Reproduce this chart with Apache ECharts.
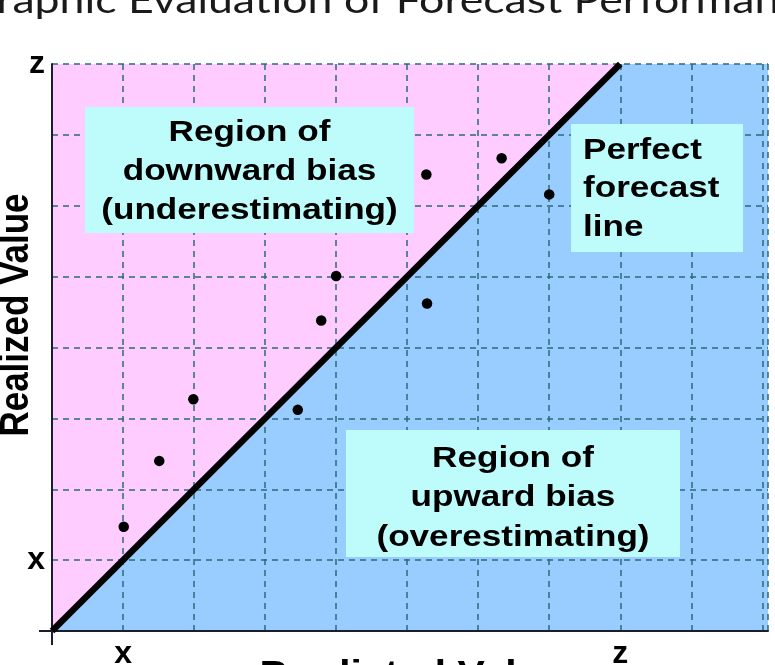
<!DOCTYPE html>
<html><head><meta charset="utf-8">
<script src="https://cdn.jsdelivr.net/npm/echarts@6/dist/echarts.min.js"></script>
<style>html,body{margin:0;padding:0;background:#fff;overflow:hidden}#c{width:775px;height:665px}</style>
</head><body><div id="c"></div>
<script>
// ---- data ----
const predicted = [1.01, 1.51, 1.99, 3.46, 3.79, 4.00, 5.28, 5.27, 6.33, 7.00];
const realized  = [1.47, 2.40, 3.27, 3.12, 4.38, 5.01, 4.62, 6.44, 6.67, 6.16];
const tickValues = [1, 8];
const tickLabels = ['x', 'z'];
const xMax = 10.08, yMax = 8;
const perfectLine = [[0, 0], [yMax, yMax]];
const downwardRegion = [[0, 0], [0, yMax], [yMax, yMax]];
const upwardRegion = [[0, 0], [xMax, 0], [xMax, yMax], [yMax, yMax]];
const titleText = 'Graphic Evaluation of Forecast Performance';
const xTitle = 'Predicted Value';
const yTitle = 'Realized Value';
const boxDownText = 'Region of\ndownward bias\n(underestimating)';
const boxPerfectText = 'Perfect\nforecast\nline';
const boxUpText = 'Region of\nupward bias\n(overestimating)';

// ---- layout ----
const G = {left: 52, top: 64, right: 7, bottom: 34};
const W = 775, H = 665;
const axisY = H - G.bottom;
const boxFill = '#bdfcfa';
const textFont = 'bold 30px "Liberation Sans", Arial, sans-serif';
const SX = 1.17;

const fmt = v => { const i = tickValues.indexOf(v); return i >= 0 ? tickLabels[i] : ''; };
const axisLabelStyle = {fontSize: 32, fontWeight: 'bold', fontFamily: 'Liberation Sans', color: '#000'};
const splitStyle = {type: [6, 5], color: '#2a6a7c', width: 1.5};

function polySeries(region, color) {
  return {
    type: 'custom', z: -5, silent: true, data: [[0, 0]],
    renderItem: (params, api) => ({
      type: 'polygon',
      shape: {points: region.map(p => api.coord(p))},
      style: {fill: color}
    })
  };
}

function label(x, y, text, opts) {
  return {type: 'group', x: x, y: y, scaleX: opts.sx || 1, z: 20, children: [
    {type: 'text', z: 20, rotation: opts.rot || 0,
     style: Object.assign({text: text, x: 0, y: 0, align: opts.align || 'center', verticalAlign: 'middle',
       font: opts.font || textFont, fill: opts.fill || '#000'}, opts.lh ? {lineHeight: opts.lh} : {})}]};
}

const chart = echarts.init(document.getElementById('c'), null, {renderer: 'canvas', width: W, height: H});
chart.setOption({
  animation: false,
  grid: {left: G.left, top: G.top, right: G.right, bottom: G.bottom, containLabel: false, outerBoundsMode: 'none'},
  xAxis: {
    type: 'value', min: 0, max: xMax, interval: 1,
    axisLine: {onZero: false, lineStyle: {color: '#1c1c2c', width: 2}},
    axisTick: {show: false},
    splitLine: {show: true, lineStyle: splitStyle},
    axisLabel: Object.assign({formatter: fmt, margin: 7, showMaxLabel: false}, axisLabelStyle)
  },
  yAxis: {
    type: 'value', min: 0, max: yMax, interval: 1,
    axisLine: {onZero: false, lineStyle: {color: '#1c1c2c', width: 2}},
    axisTick: {show: false},
    splitLine: {show: true, lineStyle: splitStyle},
    axisLabel: Object.assign({formatter: fmt, margin: 7}, axisLabelStyle)
  },
  series: [
    polySeries(upwardRegion, '#99ccff'),
    polySeries(downwardRegion, '#ffccff'),
    {type: 'line', data: perfectLine, symbol: 'none', z: 3, silent: true,
     lineStyle: {color: '#000', width: 6.5}},
    {type: 'scatter', data: predicted.map((x, i) => [x, realized[i]]), symbolSize: 10.5, z: 4,
     itemStyle: {color: '#000', opacity: 1}}
  ],
  graphic: [
    // axis extensions past the origin
    {type: 'line', z: 10, shape: {x1: G.left, y1: axisY, x2: G.left, y2: axisY + 14}, style: {stroke: '#1c1c2c', lineWidth: 2}},
    {type: 'line', z: 10, shape: {x1: G.left - 13, y1: axisY, x2: G.left, y2: axisY}, style: {stroke: '#1c1c2c', lineWidth: 2}},
    // title
    label(394, 1, titleText, {sx: 1.24, font: '36px Lato, "Open Sans", sans-serif', fill: '#1a1a1a'}),
    // axis titles
    label(17, 315, yTitle, {sx: SX, rot: Math.PI / 2, font: 'bold 35px "Liberation Sans", Arial, sans-serif'}),
    label(412, 675, xTitle, {sx: SX, font: 'bold 35px "Liberation Sans", Arial, sans-serif'}),
    // annotation boxes
    {type: 'rect', z: 10, shape: {x: 85, y: 107, width: 329, height: 126}, style: {fill: boxFill}},
    label(249.5, 172, boxDownText, {sx: SX, lh: 39}),
    {type: 'rect', z: 10, shape: {x: 571, y: 124, width: 172, height: 128}, style: {fill: boxFill}},
    label(583, 189, boxPerfectText, {sx: SX, lh: 38.5, align: 'left'}),
    {type: 'rect', z: 10, shape: {x: 346, y: 430, width: 334, height: 127}, style: {fill: boxFill}},
    label(513, 498, boxUpText, {sx: SX, lh: 39.5})
  ]
});
</script>
</body></html>
